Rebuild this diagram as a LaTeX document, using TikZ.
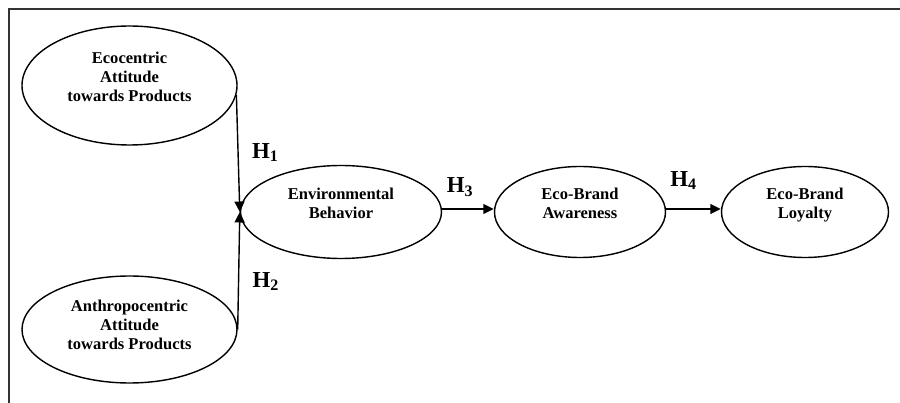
\documentclass[tikz,border=0pt]{standalone}
\usepackage{fontspec}
\setmainfont{Liberation Serif}
\usetikzlibrary{arrows.meta}
\usetikzlibrary{shapes,positioning}
\tikzstyle{construct} = [ellipse, draw=black, line width=0.8pt, inner sep=0pt, align=center, text depth=0.35cm, font=\fontsize{9.4}{10.8}\selectfont\bfseries]
\tikzstyle{path} = [line width=0.8pt, -{Triangle[length=0.21cm,width=0.2cm]}]
\tikzstyle{hyp} = [font=\fontsize{13}{15}\selectfont\bfseries]
\tikzstyle{frame} = [line width=1.1pt, draw=black!80]

\begin{document}
\begin{tikzpicture}[node distance=4.78cm]
  \useasboundingbox (0,0) rectangle (18,-8.06);
  \draw[frame] (18,-0.18) -- (0.18,-0.18) -- (0.18,-8.06);

  \node (eco) [construct, minimum width=4.3cm, minimum height=2.38cm] at (2.59,-1.71) {Ecocentric\\Attitude\\towards Products};
  \node (anthro) [construct, minimum width=4.3cm, minimum height=2.14cm, text depth=0.2cm, below of=eco, yshift=-0.1cm] {Anthropocentric\\Attitude\\towards Products};
  \node (env) [construct, minimum width=4.02cm, minimum height=1.86cm] at (6.82,-4.24) {Environmental\\Behavior};
  \node (aware) [construct, minimum width=3.42cm, minimum height=1.82cm, right of=env] {Eco-Brand\\Awareness};
  \node (loyal) [construct, minimum width=3.34cm, minimum height=1.82cm, right of=aware, xshift=-0.28cm] {Eco-Brand\\Loyalty};

  \draw[path] (eco.-5) -- node[hyp, anchor=west, pos=0.49, xshift=0.15cm] {H\textsubscript{1}} (env.west);
  \draw[path] (anthro.east) -- node[hyp, anchor=west, pos=0.41, xshift=0.15cm] {H\textsubscript{2}} (env.west);
  \draw[path] ([yshift=0.06cm]env.east) -- node[hyp, anchor=south, pos=0.35, yshift=0.12cm] {H\textsubscript{3}} ([yshift=0.06cm]aware.west);
  \draw[path] ([yshift=0.06cm]aware.east) -- node[hyp, anchor=south, pos=0.32, yshift=0.25cm] {H\textsubscript{4}} ([yshift=0.06cm]loyal.west);
\end{tikzpicture}
\end{document}
